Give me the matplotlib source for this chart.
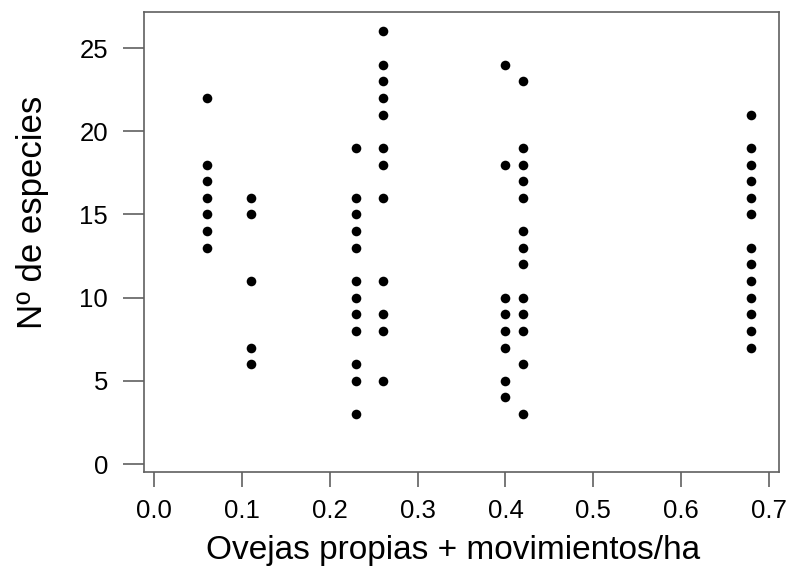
import matplotlib.pyplot as plt

plt.rcParams["font.family"] = ["Liberation Sans", "DejaVu Sans"]

# species counts per sampled plot, grouped by stocking density
x_0_06 = [0.06] * 7
y_0_06 = [22, 18, 17, 16, 15, 14, 13]
x_0_11 = [0.11] * 5
y_0_11 = [16, 15, 11, 7, 6]
x_0_23 = [0.23] * 12
y_0_23 = [19, 16, 15, 14, 13, 11, 10, 9, 8, 6, 5, 3]
x_0_26 = [0.26] * 12
y_0_26 = [26, 24, 23, 22, 21, 19, 18, 16, 11, 9, 8, 5]
x_0_40 = [0.40] * 8
y_0_40 = [24, 18, 10, 9, 8, 7, 5, 4]
x_0_42 = [0.42] * 13
y_0_42 = [23, 19, 18, 17, 16, 14, 13, 12, 10, 9, 8, 6, 3]
x_0_68 = [0.68] * 13
y_0_68 = [21, 19, 18, 17, 16, 15, 13, 12, 11, 10, 9, 8, 7]

xs = x_0_06 + x_0_11 + x_0_23 + x_0_26 + x_0_40 + x_0_42 + x_0_68
ys = y_0_06 + y_0_11 + y_0_23 + y_0_26 + y_0_40 + y_0_42 + y_0_68

xticks = [0.0, 0.1, 0.2, 0.3, 0.4, 0.5, 0.6, 0.7]
yticks = [0, 5, 10, 15, 20, 25]

fig = plt.figure(figsize=(7.87, 5.70), dpi=100)
ax = fig.add_axes([0.183, 0.1725, 0.8068, 0.806])

ax.scatter(xs, ys, s=48, color="black", linewidths=0, zorder=3)

ax.set_xlim(-0.0117, 0.7115)
ax.set_ylim(-0.46, 27.15)
ax.set_xticks(xticks)
ax.set_xticklabels(["%.1f" % t for t in xticks])
ax.set_yticks(yticks)

for sp in ax.spines.values():
    sp.set_color("#606060")
    sp.set_linewidth(1.2)

ax.tick_params(axis="x", length=11, width=1.2, color="#606060", pad=9,
               labelsize=18.5)
ax.tick_params(axis="y", length=15, width=1.2, color="#606060", pad=11,
               labelsize=18.5)

ax.set_xlabel("Ovejas propias + movimientos/ha", fontsize=24, labelpad=8)
ax.xaxis.label.set_x(0.486)
ax.set_ylabel("Nº de especies", fontsize=25)
ax.yaxis.set_label_coords(-0.15, 0.565)

fig.savefig("out.png", dpi=100)
